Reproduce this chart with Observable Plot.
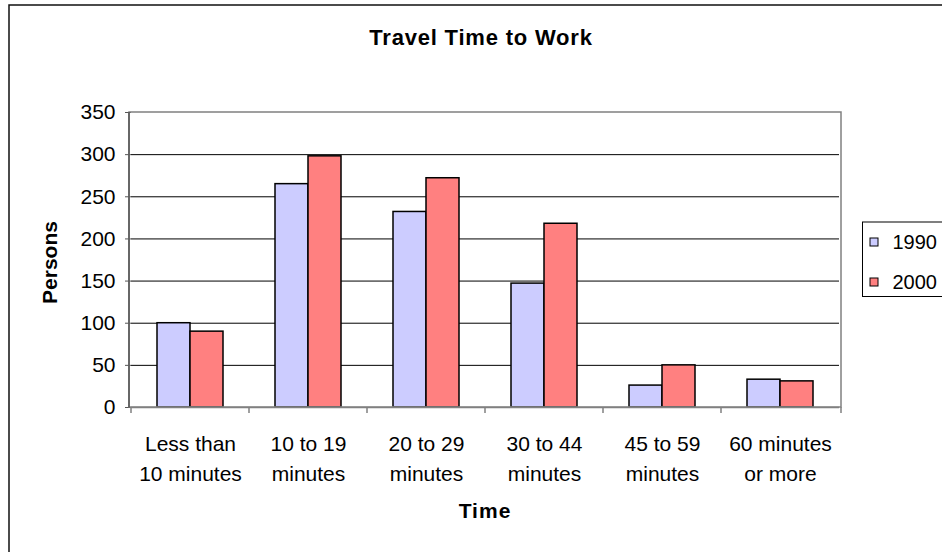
<!DOCTYPE html>
<html>
<head>
<meta charset="utf-8">
<script src="https://cdn.jsdelivr.net/npm/d3@7"></script>
<script src="https://cdn.jsdelivr.net/npm/@observablehq/plot@0.6"></script>
<style>
  html, body { margin: 0; padding: 0; background: #fff; }
  svg { display: block; }
</style>
</head>
<body>
<div id="chart"></div>
<script>
// Travel time categories (two-line labels)
const categories = [
  "Less than\n10 minutes",
  "10 to 19\nminutes",
  "20 to 29\nminutes",
  "30 to 44\nminutes",
  "45 to 59\nminutes",
  "60 minutes\nor more"
];
const years = ["1990", "2000"];
const persons1990 = [100, 265, 232, 147, 26, 33];
const persons2000 = [90, 298, 272, 218, 50, 31];
const yTicks = [0, 50, 100, 150, 200, 250, 300, 350];
const yearColors = ["#ccccff", "#ff8080"];

const chartTitle = "Travel Time to Work";
const yTitle = "Persons";
const xTitle = "Time";

const rows = categories.flatMap((category, i) => [
  {category, year: years[0], persons: persons1990[i]},
  {category, year: years[1], persons: persons2000[i]}
]);

const font = "'Liberation Sans', Arial, sans-serif";

const plot = Plot.plot({
  width: 942,
  height: 552,
  marginLeft: 129,
  marginRight: 101,
  marginTop: 112,
  marginBottom: 145,
  style: {fontFamily: font, fontSize: "21px", color: "#000", background: "#fff", overflow: "visible"},
  fx: {domain: categories, padding: 0, axis: null, label: null},
  x: {domain: years, axis: null, paddingInner: 0, paddingOuter: 0.745, align: 0.5},
  y: {domain: [0, 350], axis: null, label: null},
  color: {domain: years, range: yearColors},
  marks: [
    Plot.ruleY(yTicks.filter(t => t > 0 && t < 350), {stroke: "#000", strokeWidth: 1}),
    Plot.barY(rows, {fx: "category", x: "year", y: "persons", fill: "year", stroke: "#000", strokeWidth: 1.5}),
    Plot.ruleY([0], {stroke: "#808080", strokeWidth: 1.5}),
    Plot.axisFx({anchor: "bottom", tickSize: 0, tickPadding: 22, fontSize: 21, lineHeight: 1.43, label: null}),
    Plot.axisY({ticks: yTicks, tickSize: 6, tickPadding: 10, fontSize: 21, label: null, stroke: "#555", tickFormat: d => String(d)})
  ]
});

document.getElementById("chart").appendChild(plot);

// Decorations drawn from the plot's own scales
const svg = d3.select(plot);
const fx = plot.scale("fx");
const y = plot.scale("y");
const color = plot.scale("color");
const [fx0, fx1] = fx.range;
const step = (fx1 - fx0) / fx.domain.length;
const bandStart = c => (fx.apply ? fx.apply(c) : fx0 + fx.domain.indexOf(c) * step);
const yTop = y.apply(350);
const yBottom = y.apply(0);

// plot-area border (grey)
svg.append("rect")
  .attr("x", fx0).attr("y", yTop)
  .attr("width", fx1 - fx0).attr("height", yBottom - yTop)
  .attr("fill", "none").attr("stroke", "#808080").attr("stroke-width", 1.5);

// value axis line
svg.append("line")
  .attr("x1", fx0).attr("x2", fx0).attr("y1", yTop).attr("y2", yBottom + 0.5)
  .attr("stroke", "#555").attr("stroke-width", 1.5);

// category boundary ticks
const boundaries = categories.map(bandStart).concat([fx1]);
svg.append("g").selectAll("line").data(boundaries).join("line")
  .attr("x1", d => d).attr("x2", d => d)
  .attr("y1", yBottom).attr("y2", yBottom + 6)
  .attr("stroke", "#808080").attr("stroke-width", 1.5);

// outer chart border
svg.append("rect")
  .attr("x", 9).attr("y", 5).attr("width", 960).attr("height", 580)
  .attr("fill", "none").attr("stroke", "#111").attr("stroke-width", 1.5);

// title
svg.append("text")
  .attr("x", 481).attr("y", 45)
  .attr("text-anchor", "middle")
  .attr("font-family", font).attr("font-weight", "bold").attr("font-size", 22)
  .attr("letter-spacing", "0.8px")
  .text(chartTitle);

// y title
svg.append("text")
  .attr("transform", `translate(57, ${(yTop + yBottom) / 2 + 3}) rotate(-90)`)
  .attr("text-anchor", "middle")
  .attr("font-family", font).attr("font-weight", "bold").attr("font-size", 21)
  .text(yTitle);

// x title
svg.append("text")
  .attr("x", (fx0 + fx1) / 2).attr("y", 518)
  .attr("text-anchor", "middle")
  .attr("font-family", font).attr("font-weight", "bold").attr("font-size", 21)
  .attr("letter-spacing", "1px")
  .text(xTitle);

// legend
const legend = svg.append("g").attr("text-anchor", "start");
legend.append("rect")
  .attr("x", 862.5).attr("y", 222).attr("width", 100).attr("height", 74.5)
  .attr("fill", "#fff").attr("stroke", "#000").attr("stroke-width", 1);
color.domain.forEach((yr, i) => {
  const cy = 242 + i * 40;
  legend.append("rect")
    .attr("x", 870).attr("y", cy - 4).attr("width", 8).attr("height", 8)
    .attr("fill", color.range[i]).attr("stroke", "#000").attr("stroke-width", 1);
  legend.append("text")
    .attr("x", 892.5).attr("y", cy + 7)
    .attr("text-anchor", "start")
    .attr("font-family", font).attr("font-size", 20)
    .text(yr);
});
</script>
</body>
</html>
